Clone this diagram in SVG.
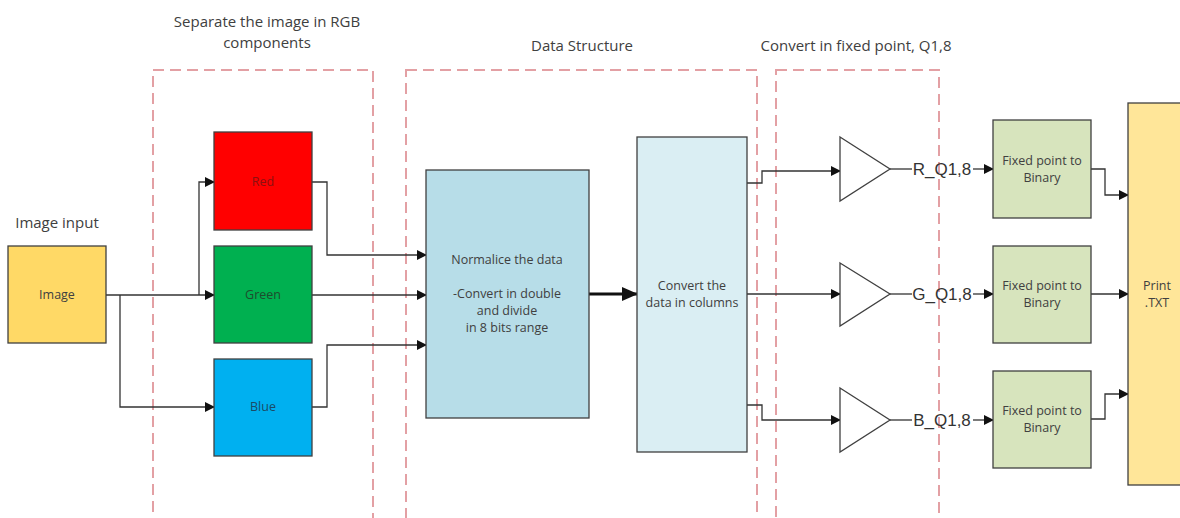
<svg xmlns="http://www.w3.org/2000/svg" width="1180" height="518" viewBox="0 0 1180 518">
<style>
.t{font-family:"Open Sans","Liberation Sans",sans-serif;fill:#404040}
.title{font-size:15px}
.bx{stroke:#404040;stroke-width:1.3}
.bt{font-size:12.5px;text-anchor:middle}
.cn{fill:none;stroke:#333;stroke-width:1.3}
.dash{fill:none;stroke:#E3A0A4;stroke-width:2;stroke-dasharray:11 6}
.lbl{font-family:"Liberation Sans",sans-serif;font-size:17px;fill:#333}
</style>
<defs>
<marker id="ah" markerWidth="10" markerHeight="10" refX="9" refY="5" orient="auto" markerUnits="userSpaceOnUse">
<path d="M0,0 L10,5 L0,10 z" fill="#111"/>
</marker>
<marker id="ahb" markerWidth="16" markerHeight="14" refX="15" refY="7" orient="auto" markerUnits="userSpaceOnUse">
<path d="M0,0 L16,7 L0,14 z" fill="#111"/>
</marker>
</defs>
<rect width="1180" height="518" fill="#fff"/>
<g id="groups">
<rect class="dash" x="153" y="70" width="220" height="460"/>
<rect class="dash" x="406" y="70" width="351" height="460"/>
<rect class="dash" x="776" y="70" width="163" height="460"/>
<text class="t title" x="267" y="27" text-anchor="middle">Separate the image in RGB</text>
<text class="t title" x="267" y="48" text-anchor="middle">components</text>
<text class="t title" x="582" y="51" text-anchor="middle">Data Structure</text>
<text class="t title" x="856" y="51" text-anchor="middle">Convert in fixed point, Q1,8</text>
<text class="t title" x="57" y="228" text-anchor="middle">Image input</text>
</g>
<g id="connectors">
<polyline class="cn" points="106,295 214,295" marker-end="url(#ah)"/>
<polyline class="cn" points="199,295 199,182 214,182" marker-end="url(#ah)"/>
<polyline class="cn" points="120,295 120,407 214,407" marker-end="url(#ah)"/>
<polyline class="cn" points="312,182 327,182 327,255 426,255" marker-end="url(#ah)"/>
<polyline class="cn" points="312,295 426,295" marker-end="url(#ah)"/>
<polyline class="cn" points="312,407 327,407 327,345 426,345" marker-end="url(#ah)"/>
<line x1="589" y1="294" x2="637" y2="294" stroke="#111" stroke-width="3" marker-end="url(#ahb)"/>
<polyline class="cn" points="747,183 762,183 762,171 840,171" marker-end="url(#ah)"/>
<polyline class="cn" points="747,294 840,294" marker-end="url(#ah)"/>
<polyline class="cn" points="747,405 762,405 762,420 840,420" marker-end="url(#ah)"/>
<line class="cn" x1="890" y1="169" x2="912" y2="169"/>
<line class="cn" x1="973" y1="169" x2="993" y2="169" marker-end="url(#ah)"/>
<line class="cn" x1="890" y1="294" x2="912" y2="294"/>
<line class="cn" x1="973" y1="294" x2="993" y2="294" marker-end="url(#ah)"/>
<line class="cn" x1="890" y1="420" x2="912" y2="420"/>
<line class="cn" x1="973" y1="420" x2="993" y2="420" marker-end="url(#ah)"/>
<polyline class="cn" points="1091,169 1105,169 1105,195 1128,195" marker-end="url(#ah)"/>
<polyline class="cn" points="1091,294 1128,294" marker-end="url(#ah)"/>
<polyline class="cn" points="1091,419 1105,419 1105,394 1128,394" marker-end="url(#ah)"/>
<text class="lbl" x="942" y="175" text-anchor="middle">R_Q1,8</text>
<text class="lbl" x="942" y="300" text-anchor="middle">G_Q1,8</text>
<text class="lbl" x="942" y="426" text-anchor="middle">B_Q1,8</text>
</g>
<g id="image">
<rect class="bx" x="8" y="246" width="98" height="97" fill="#FFD966"/>
<text class="t bt" x="57" y="299">Image</text>
</g>
<g id="red">
<rect class="bx" x="214" y="132" width="98" height="98" fill="#FF0000"/>
<text class="t bt" x="263" y="186" style="fill:#8B1010">Red</text>
</g>
<g id="green">
<rect class="bx" x="214" y="246" width="98" height="97" fill="#00B050"/>
<text class="t bt" x="263" y="299" style="fill:#1E4D2E">Green</text>
</g>
<g id="blue">
<rect class="bx" x="214" y="359" width="98" height="97" fill="#00B0F0"/>
<text class="t bt" x="263" y="411" style="fill:#1B4A66">Blue</text>
</g>
<g id="normalize">
<rect class="bx" x="426" y="170" width="163" height="248" fill="#B7DDE8"/>
<text class="t bt" x="507" y="264">Normalice the data</text>
<text class="t bt" x="507" y="298">-Convert in double</text>
<text class="t bt" x="507" y="315">and divide</text>
<text class="t bt" x="507" y="332">in 8 bits range</text>
</g>
<g id="columns">
<rect class="bx" x="637" y="137" width="110" height="315" fill="#DAEEF3"/>
<text class="t bt" x="692" y="290">Convert the</text>
<text class="t bt" x="692" y="307">data in columns</text>
</g>
<g id="tri-r"><polygon class="bx" points="840,137 890,169 840,201" fill="#fff"/></g>
<g id="tri-g"><polygon class="bx" points="840,263 890,294 840,326" fill="#fff"/></g>
<g id="tri-b"><polygon class="bx" points="840,388 890,420 840,452" fill="#fff"/></g>
<g id="fb-r">
<rect class="bx" x="993" y="120" width="98" height="98" fill="#D7E4BD"/>
<text class="t bt" x="1042" y="165">Fixed point to</text>
<text class="t bt" x="1042" y="182">Binary</text>
</g>
<g id="fb-g">
<rect class="bx" x="993" y="246" width="98" height="97" fill="#D7E4BD"/>
<text class="t bt" x="1042" y="290">Fixed point to</text>
<text class="t bt" x="1042" y="307">Binary</text>
</g>
<g id="fb-b">
<rect class="bx" x="993" y="371" width="98" height="97" fill="#D7E4BD"/>
<text class="t bt" x="1042" y="415">Fixed point to</text>
<text class="t bt" x="1042" y="432">Binary</text>
</g>
<g id="print">
<rect class="bx" x="1128" y="103" width="60" height="382" fill="#FFE699"/>
<text class="t bt" x="1157" y="290">Print</text>
<text class="t bt" x="1157" y="307">.TXT</text>
</g>
</svg>
